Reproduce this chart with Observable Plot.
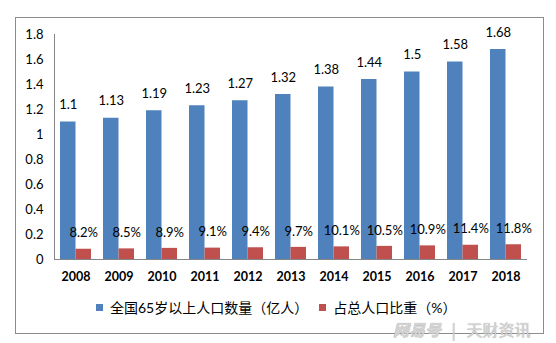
<!DOCTYPE html>
<html><head><meta charset="utf-8">
<script src="https://cdn.jsdelivr.net/npm/d3@7"></script>
<script src="https://cdn.jsdelivr.net/npm/@observablehq/plot@0.6"></script>
<style>
body{margin:0;background:#fff;}
#wrap{position:relative;width:556px;height:343px;overflow:hidden;font-family:Lato,"Noto Sans CJK SC",sans-serif;background:#fff;}
#border{position:absolute;left:15px;top:17px;width:529px;height:317px;border:1px solid #8c8c8c;box-sizing:border-box;}
#chart{position:absolute;left:0;top:0;}
#legend{position:absolute;left:96px;top:300px;display:flex;align-items:center;font-size:14px;line-height:15px;color:#000;white-space:nowrap;}
#legend .sw{width:7px;height:7px;display:inline-block;margin-right:7px;}
#legend .item{display:flex;align-items:center;margin-right:11px;}
#wm{position:absolute;left:393px;top:322px;font-size:16px;line-height:14px;color:#d4d4d4;white-space:nowrap;text-shadow:0 0 1px #999;font-family:"Noto Sans CJK SC",sans-serif;}
</style>
</head><body>
<div id="wrap">
  <div id="border"></div>
  <div id="chart"></div>
  <div id="legend"></div>
  <div id="wm"><b style="font-style:italic">网易号</b> <span style="margin:0 7px">|</span> 天财资讯</div>
</div>
<script>
const years = ["2008","2009","2010","2011","2012","2013","2014","2015","2016","2017","2018"];
const population = [1.1, 1.13, 1.19, 1.23, 1.27, 1.32, 1.38, 1.44, 1.5, 1.58, 1.68];
const sharePct = [8.2, 8.5, 8.9, 9.1, 9.4, 9.7, 10.1, 10.5, 10.9, 11.4, 11.8];
const seriesNames = ["全国65岁以上人口数量（亿人）", "占总人口比重（%）"];
const seriesColors = ["#4F81BD", "#C0504D"];
const yTicks = [0, 0.2, 0.4, 0.6, 0.8, 1.0, 1.2, 1.4, 1.6, 1.8];

const W = 556, H = 290, ML = 54, MR = 29, MT = 34, MB = 31;
const bw = (W - ML - MR) / years.length;
const barW = 15.5;

const popData = years.map((y, i) => ({year: y, value: population[i], label: String(population[i])}));
const shareData = years.map((y, i) => ({year: y, value: sharePct[i] / 100, label: sharePct[i].toFixed(1) + "%"}));

const plot = Plot.plot({
  width: W, height: H,
  marginLeft: ML, marginRight: MR, marginTop: MT, marginBottom: MB,
  style: {fontFamily: "Lato, 'Noto Sans CJK SC', sans-serif", fontSize: "13px", color: "#000", background: "transparent"},
  x: {domain: years, padding: 0, label: null},
  y: {domain: [0, 1.8], label: null},
  marks: [
    Plot.axisY({ticks: yTicks, tickSize: 0, tickPadding: 11, tickFormat: d => String(+d.toFixed(1)), fontSize: 13}),
    Plot.axisX({tickSize: 0, tickPadding: 13, fontSize: 12.5, fontWeight: "bold"}),
    Plot.barY(popData, {x: "year", y: "value", fill: seriesColors[0], insetLeft: bw / 2 - barW, insetRight: bw / 2}),
    Plot.barY(shareData, {x: "year", y: "value", fill: seriesColors[1], insetLeft: bw / 2, insetRight: bw / 2 - barW}),
    Plot.text(popData, {x: "year", y: "value", text: "label", dx: -barW / 2, dy: -17, fontSize: 13, fill: "#000"}),
    Plot.text(shareData, {x: "year", y: "value", text: "label", dx: barW / 2, dy: -16, fontSize: 13, fill: "#000"}),
    Plot.ruleY([0], {stroke: "#868686"}),
    Plot.frame({anchor: "left", stroke: "#868686"})
  ]
});
document.getElementById("chart").appendChild(plot);

const legend = document.getElementById("legend");
seriesNames.forEach((n, i) => {
  const item = document.createElement("span");
  item.className = "item";
  const sw = document.createElement("span");
  sw.className = "sw";
  sw.style.background = seriesColors[i];
  item.appendChild(sw);
  item.appendChild(document.createTextNode(n));
  legend.appendChild(item);
});
</script>
</body></html>
